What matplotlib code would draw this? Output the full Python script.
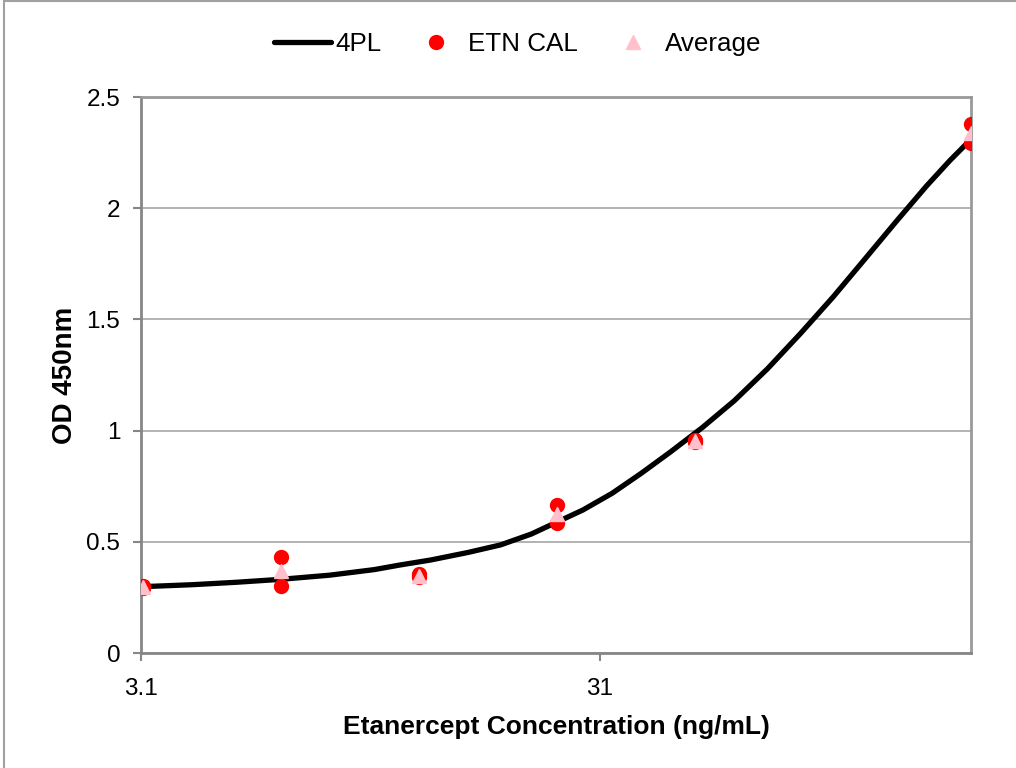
import matplotlib
matplotlib.use("Agg")
import matplotlib.pyplot as plt
from matplotlib.patches import Rectangle
from matplotlib.ticker import FixedLocator, NullLocator

plt.rcParams['font.family'] = ['Liberation Sans', 'DejaVu Sans']

# Data
conc = [3.125, 6.25, 12.5, 25, 50, 200]
rep1 = [0.300, 0.433, 0.355, 0.667, 0.958, 2.380]
rep2 = [0.292, 0.303, 0.340, 0.586, 0.950, 2.295]
avg = [0.296, 0.368, 0.347, 0.626, 0.954, 2.337]

# 4PL fitted curve
curve_x = [3.1, 4.0, 5.0, 6.23, 8.0, 10.0, 11.4, 13.26, 16.0, 18.85, 22.0, 25.1,
           28.5, 33.0, 38.2, 44.3, 52.0, 61.0, 72.0, 85.0, 100.0, 117.8,
           138.0, 160.0, 180.0, 200.0]
curve_y = [0.298, 0.307, 0.318, 0.331, 0.350, 0.375, 0.396, 0.418, 0.452, 0.486,
           0.535, 0.590, 0.643, 0.718, 0.808, 0.905, 1.015, 1.135, 1.278,
           1.437, 1.600, 1.775, 1.945, 2.100, 2.215, 2.310]

xticks = [3.1, 31]
xtick_labels = ["3.1", "31"]
yticks = [0, 0.5, 1, 1.5, 2, 2.5]
ytick_labels = ["0", "0.5", "1", "1.5", "2", "2.5"]

fig = plt.figure(figsize=(10.16, 7.68), dpi=100)
ax = fig.add_axes([141/1016, 1 - 653/768, (971-141)/1016, (653-97)/768])

ax.set_xscale('log')
ax.set_xlim(3.1, 200)
ax.set_ylim(0, 2.5)

ax.yaxis.grid(True, color='#A6A6A6', linewidth=1.2)
ax.set_axisbelow(True)

ax.plot(curve_x, curve_y, color='black', linewidth=3.8, label='4PL', zorder=3,
        solid_capstyle='round', solid_joinstyle='round')
ax.plot(conc + conc, rep1 + rep2, linestyle='none', marker='o', markersize=10,
        color='#FF0000', label='ETN CAL', zorder=4)
ax.plot(conc, avg, linestyle='none', marker='^', markersize=10,
        color='#FFC0CB', label='Average', zorder=5)

ax.xaxis.set_major_locator(FixedLocator(xticks))
ax.xaxis.set_minor_locator(NullLocator())
ax.set_xticklabels(xtick_labels)
ax.set_yticks(yticks)
ax.set_yticklabels(ytick_labels)

for s in ['left', 'bottom']:
    ax.spines[s].set_color('#868686')
    ax.spines[s].set_linewidth(2)
for s in ['top', 'right']:
    ax.spines[s].set_color('#999999')
    ax.spines[s].set_linewidth(2)

ax.tick_params(axis='both', which='major', direction='out', length=6, width=1.5,
               color='#868686', labelsize=17.5)
ax.tick_params(axis='x', pad=12)
ax.tick_params(axis='y', pad=9)

ax.set_xlabel('Etanercept Concentration (ng/mL)', fontsize=19, fontweight='bold',
              labelpad=11)
ax.set_ylabel('OD 450nm', fontsize=20, fontweight='bold', labelpad=6)

leg = fig.legend(loc='center', bbox_to_anchor=(518/1016, 1 - 44/768), ncol=3,
                 frameon=False, fontsize=18.7, handlelength=2.2, columnspacing=1.0,
                 handletextpad=0.15)

# outer chart border
fig.patches.append(Rectangle((4/1016, -0.01), 1.02, 1 - 1/768 + 0.01,
                             transform=fig.transFigure, fill=False,
                             edgecolor='#A0A0A0', linewidth=1.5))

fig.savefig('out.png', dpi=100)
